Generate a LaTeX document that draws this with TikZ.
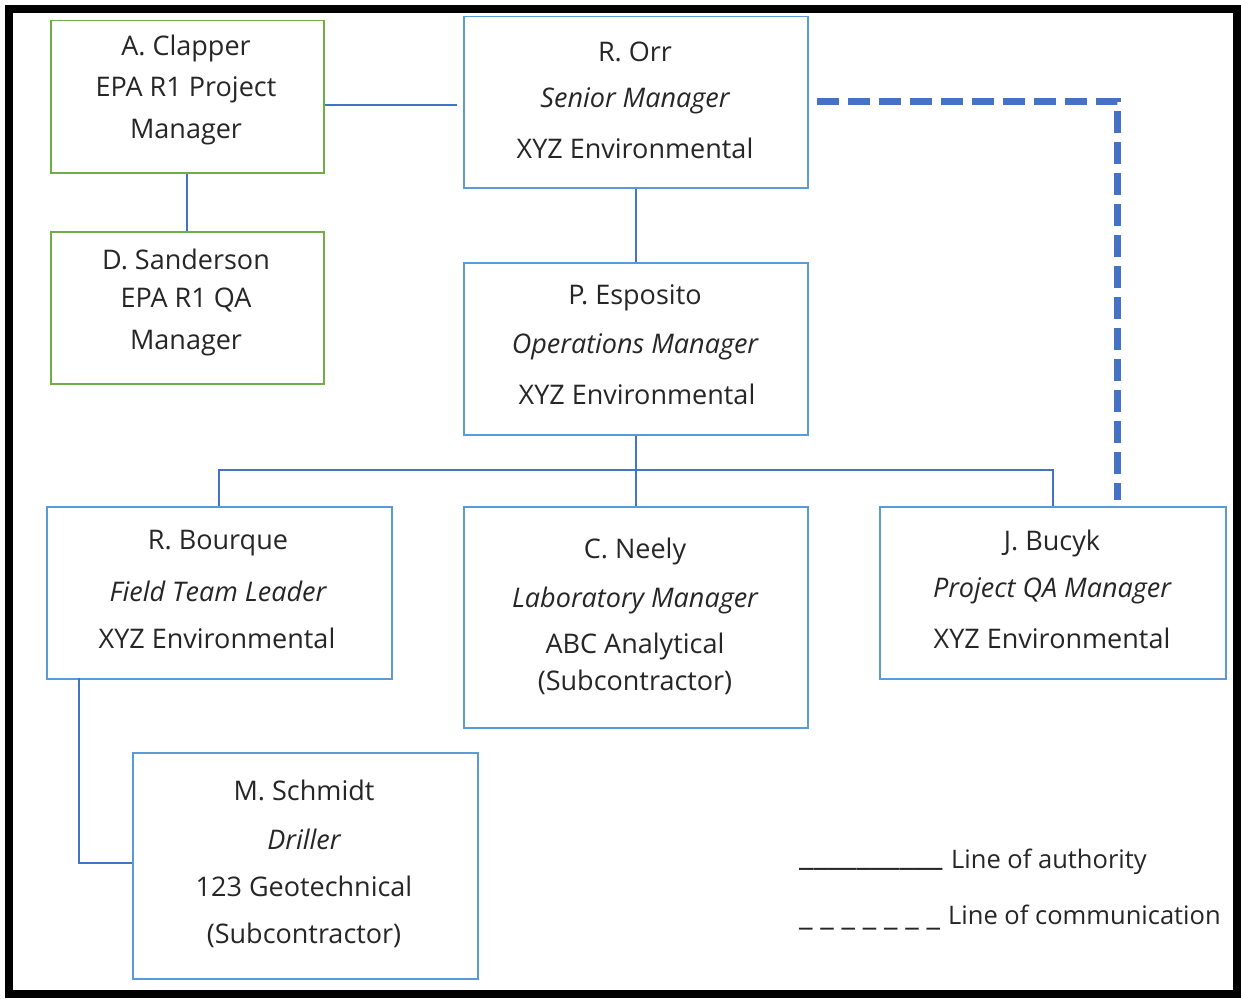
\documentclass[tikz,border=0pt]{standalone}
\usepackage{fontspec}
\setmainfont{Open Sans}
\definecolor{boxblue}{HTML}{5B9BD5}
\definecolor{linkblue}{HTML}{4472C4}
\definecolor{boxgreen}{HTML}{70AD47}
\definecolor{txt}{HTML}{262626}
\tikzset{
  bluebox/.style={draw=boxblue, line width=1.5pt, fill=white},
  greenbox/.style={draw=boxgreen, line width=1.5pt, fill=white},
  lbl/.style={text=txt, font=\fontsize{27}{31}\selectfont, inner sep=0pt, anchor=center},
  lgd/.style={text=txt, font=\fontsize{25.5}{30}\selectfont, inner sep=0pt, anchor=base west},
  link/.style={draw=linkblue, line width=1.8pt},
  comm/.style={draw=linkblue, line width=7pt, dash pattern=on 22pt off 9pt}
}
\begin{document}
\begin{tikzpicture}[x=1pt,y=-1pt]
\useasboundingbox (0,0) rectangle (1241,998);
\fill[white] (0,0) rectangle (1241,998);
\draw[line width=8pt] (9,9) rectangle (1237,994);

% boxes
\node[greenbox, minimum width=273pt, minimum height=152pt, anchor=north west] (clapper) at (50,20) {};
\node[greenbox, minimum width=273pt, minimum height=152pt, anchor=north west] (sanderson) at (50,231) {};
\node[bluebox, minimum width=344pt, minimum height=171pt, anchor=north west] (orr) at (463,16) {};
\node[bluebox, minimum width=344pt, minimum height=172pt, anchor=north west] (esposito) at (463,262) {};
\node[bluebox, minimum width=345pt, minimum height=172pt, anchor=north west] (bourque) at (46,506) {};
\node[bluebox, minimum width=344pt, minimum height=221pt, anchor=north west] (neely) at (463,506) {};
\node[bluebox, minimum width=346pt, minimum height=172pt, anchor=north west] (bucyk) at (879,506) {};
\node[bluebox, minimum width=345pt, minimum height=226pt, anchor=north west] (schmidt) at (132,752) {};

% texts
\node[lbl] (c1) at (186,48) {A. Clapper};
\node[lbl] (c2) at (186,90) {EPA R1 Project};
\node[lbl] (c3) at (186,132) {Manager};
\node[lbl] (s1) at (186,259) {D. Sanderson};
\node[lbl] (s2) at (186,300) {EPA R1 QA};
\node[lbl] (s3) at (186,343) {Manager};
\node[lbl] (o1) at (635,52) {R. Orr};
\node[lbl] (o2) at (635,101) {\itshape Senior Manager};
\node[lbl] (o3) at (635,148) {XYZ Environmental};
\node[lbl] (e1) at (635,298) {P. Esposito};
\node[lbl] (e2) at (635,347) {\itshape Operations Manager};
\node[lbl] (e3) at (637,394) {XYZ Environmental};
\node[lbl] (b1) at (218,543) {R. Bourque};
\node[lbl] (b2) at (218,591) {\itshape Field Team Leader};
\node[lbl] (b3) at (217,638) {XYZ Environmental};
\node[lbl] (n1) at (635,551) {C. Neely};
\node[lbl] (n2) at (635,600) {\itshape Laboratory Manager};
\node[lbl] (n3) at (635,646) {ABC Analytical};
\node[lbl] (n4) at (635,682) {(Subcontractor)};
\node[lbl] (j1) at (1052,543) {J. Bucyk};
\node[lbl] (j2) at (1052,591) {\itshape Project QA Manager};
\node[lbl] (j3) at (1052,638) {XYZ Environmental};
\node[lbl] (m1) at (304,790) {M. Schmidt};
\node[lbl] (m2) at (304,839) {\itshape Driller};
\node[lbl] (m3) at (304,886) {123 Geotechnical};
\node[lbl] (m4) at (304,935) {(Subcontractor)};

% legend
\node[lgd, font=\fontsize{32}{36}\selectfont] (la0) at (799,865) {\_\_\_\_\_\_\_\_\_\_};
\node[lgd] (la) at (951,868) {Line of authority};
\node[lgd, font=\fontsize{30}{34}\selectfont] (lc0) at (799,925) {\_ \_ \_ \_ \_ \_ \_};
\node[lgd] (lc) at (948,924) {Line of communication};

% connectors
\coordinate (cr) at (457,105);
\draw[link] (clapper.east |- cr) -- (cr);
\draw[link] (clapper.south) -- (sanderson.north);
\draw[link] (orr.south) -- (esposito.north);
\draw[link] (esposito.south) -- (neely.north);
\coordinate (bar) at (635,470);
\draw[link] (bourque.north) -- (bourque.north |- bar) -- (bucyk.north |- bar) -- (bucyk.north);
\coordinate (bq) at (79,678);
\draw[link] (bq) -- (79,863) -- (schmidt.west |- 0,863);
\coordinate (d1) at (817,101);
\coordinate (d2) at (1117,101);
\coordinate (d3) at (1117,500);
\draw[comm] (d1) -- (d2) -- (d3);
\end{tikzpicture}
\end{document}
